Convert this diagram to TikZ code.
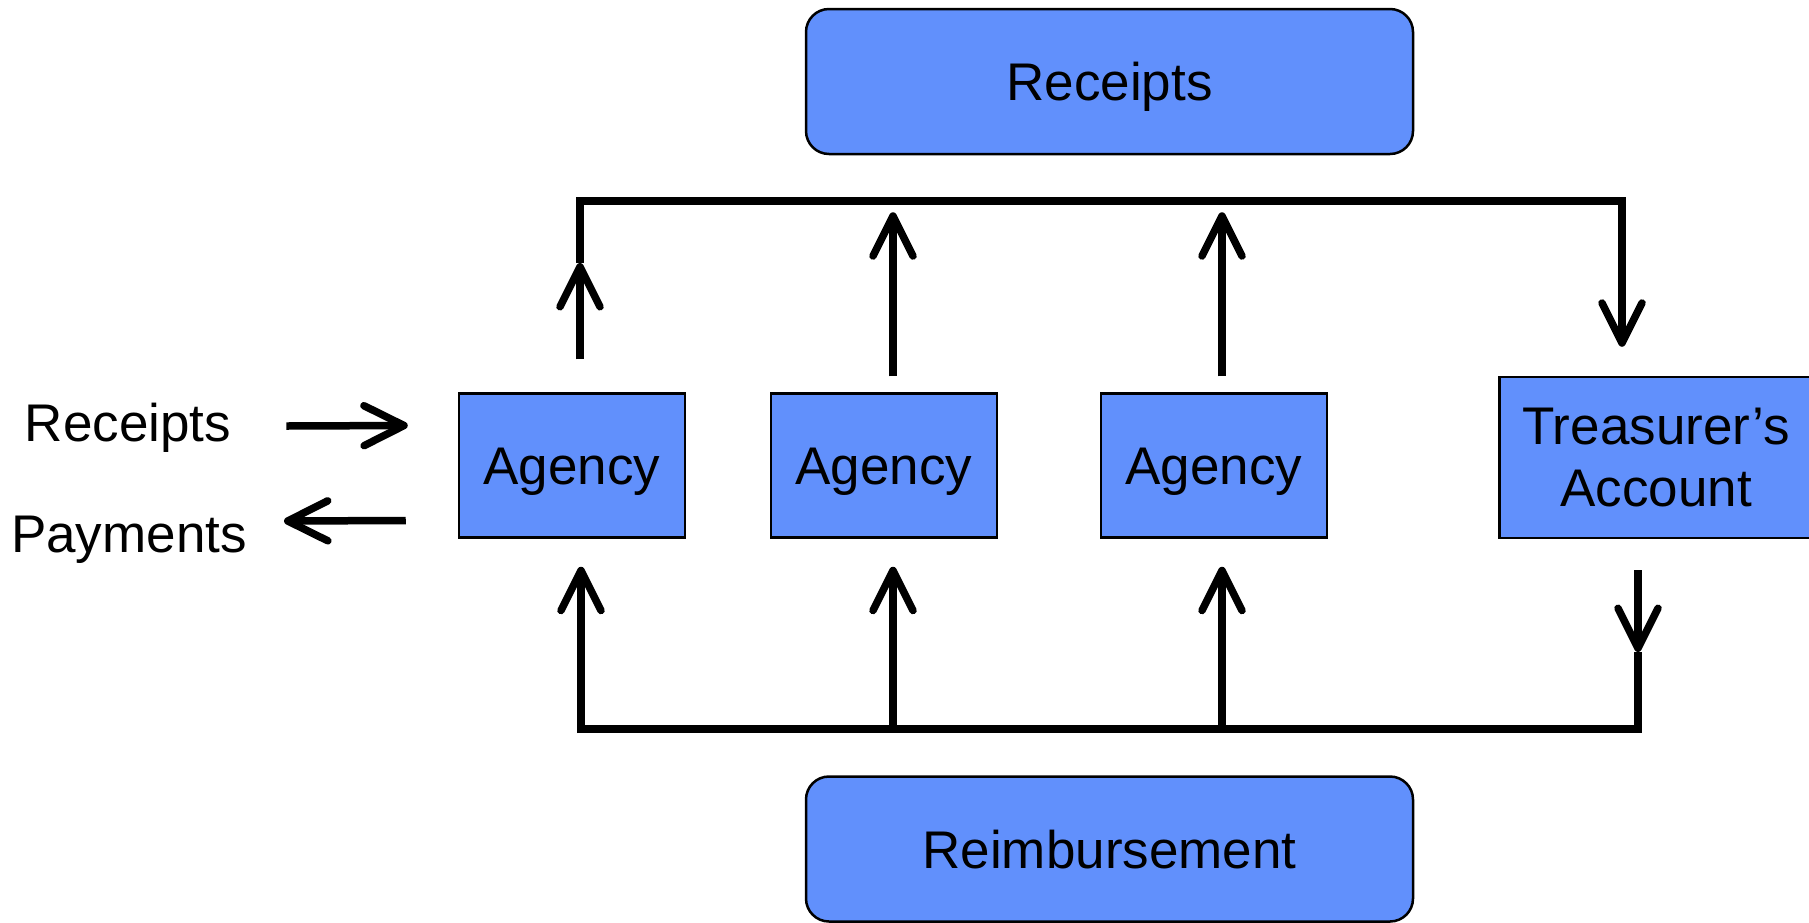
\documentclass[tikz,border=0pt]{standalone}
\usepackage{fontspec}
\setmainfont{Liberation Sans}
\usetikzlibrary{arrows.meta,calc}
\definecolor{boxblue}{RGB}{97,144,252}
\tikzset{
  txt/.style={font=\fontsize{53}{62}\selectfont, inner sep=0pt},
  blockbox/.style={txt, draw=black, line width=2.5pt, fill=boxblue, text height=38pt, text depth=0pt},
  roundbox/.style={blockbox, rounded corners=23pt, minimum width=607pt, minimum height=145pt},
  agencybox/.style={blockbox, minimum width=226pt, minimum height=144pt},
  bus/.style={line width=8pt},
  flow/.style={line width=7.5pt, -{Straight Barb[length=40pt,width=40pt,line cap=round,line join=round]}},
  plain/.style={line width=7.5pt}
}
\begin{document}
\begin{tikzpicture}[x=1pt,y=-1pt]
\useasboundingbox (0,0) rectangle (1809,922);
% boxes
\node[roundbox] (rec) at (1109.5,81.5) {Receipts};
\node[roundbox] (reimb) at (1109.5,849) {Reimbursement};
\node[agencybox] (a1) at (572,465.5) {Agency};
\node[agencybox] (a2) at (884,465.5) {Agency};
\node[agencybox] (a3) at (1214,465.5) {Agency};
\node[txt, draw=black, line width=2.5pt, fill=boxblue, minimum width=313pt, minimum height=161pt, align=center] (tr) at (1656,457.5) {Treasurer’s\\Account};
% side labels
\node[txt, anchor=base] (lrec) at (128,441) {Receipts};
\node[txt, anchor=base] (lpay) at (129,552) {Payments};
% bus corner coordinates
\coordinate (tl) at (580,201);
\coordinate (trc) at (1622,201);
\coordinate (bl) at (581,729);
\coordinate (brc) at (1638,729);
\coordinate (tmid) at (580,263);
\coordinate (bmid) at (1638,652);
% buses
\draw[bus] ($(tl)+(-3.75,0)$) -- ($(trc)+(3.75,0)$);
\draw[bus] ($(bl)+(-3.75,0)$) -- ($(brc)+(3.75,0)$);
% side arrows
\draw[flow] ($(lrec.base east)+(55,-15)$) -- ($(a1.west)+(-50,-40)$);
\draw[flow] ($(a1.west)+(-52,55)$) -- ($(lpay.base east)+(37,-31)$);
% top arrows
\draw[flow] ($(a1.north)+(8,-33)$) -- (tmid);
\draw[plain] (tmid) -- ($(tl)+(0,-4)$);
\draw[flow] ($(a2.north)+(9,-16)$) -- ($(a2.north)+(9,-180)$);
\draw[flow] ($(a3.north)+(8,-16)$) -- ($(a3.north)+(8,-180)$);
\draw[flow] ($(trc)+(0,-4)$) -- ($(tr.north)+(-34,-29)$);
% bottom arrows
\draw[flow] ($(bl)+(0,4)$) -- ($(a1.south)+(9,28)$);
\draw[flow] ($(a2.south)+(9,191)$) -- ($(a2.south)+(9,28)$);
\draw[flow] ($(a3.south)+(8,191)$) -- ($(a3.south)+(8,28)$);
\draw[flow] ($(tr.south)+(-18,31)$) -- (bmid);
\draw[plain] (bmid) -- ($(brc)+(0,4)$);
\end{tikzpicture}
\end{document}
